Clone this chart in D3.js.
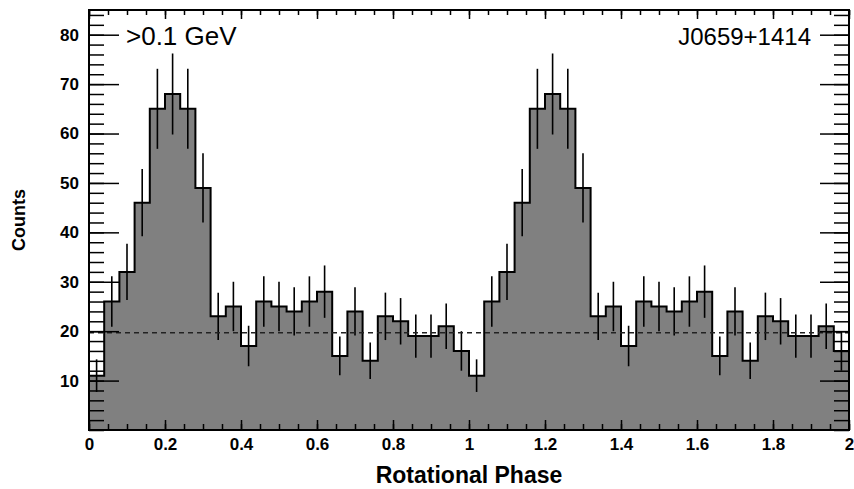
<!DOCTYPE html>
<html>
<head>
<meta charset="utf-8">
<script src="https://cdn.jsdelivr.net/npm/d3@7"></script>
<style>
    body { margin: 0; background: #fff; }
    svg text { font-family: "Liberation Sans", Arial, sans-serif; }
</style>
</head>
<body>
<div class="chart_global"></div>
<script>
// counts per phase bin (25 bins of 0.04, one rotation)
const counts = [11, 26, 32, 46, 65, 68, 65, 49, 23, 25, 17, 26, 25, 24, 26, 28, 15, 24, 14, 23, 22, 19, 19, 21, 16]
// statistical errors
const errors = [3.3, 5.1, 5.7, 6.8, 8.1, 8.2, 8.1, 7.0, 4.8, 5.0, 4.1, 5.1, 5.0, 4.9, 5.1, 5.3, 3.9, 4.9, 3.7, 4.8, 4.7, 4.4, 4.4, 4.6, 4.0]
const binWidth = 0.04
const rotations = 2
const background = 19.7
const xTicks = [0, 0.2, 0.4, 0.6, 0.8, 1, 1.2, 1.4, 1.6, 1.8, 2]
const yTicks = [10, 20, 30, 40, 50, 60, 70, 80]
const energyLabel = '>0.1 GeV'
const pulsarName = 'J0659+1414'

// two rotations shown
const bins = []
for (let r = 0; r < rotations; r++) {
    counts.forEach((c, i) => {
        bins.push({ x0: r + i * binWidth, x1: r + (i + 1) * binWidth, v: c, err: errors[i] })
    })
}

const width = 854
const height = 489
const margin = { left: 89, right: 5, top: 10, bottom: 59 }

const svg = d3.select('.chart_global')
    .append('svg')
    .attr('width', width)
    .attr('height', height)

const xScale = d3.scaleLinear().domain([0, 2]).range([margin.left, width - margin.right])
const yScale = d3.scaleLinear().domain([0, 85]).range([height - margin.bottom, margin.top])

// histogram outline
const pts = [[0, 0]]
bins.forEach(b => { pts.push([b.x0, b.v]); pts.push([b.x1, b.v]) })
pts.push([2, 0])
const line = d3.line()
    .x(d => xScale(d[0]))
    .y(d => yScale(d[1]))

svg.append('path')
    .attr('d', line(pts))
    .attr('fill', '#808080')
    .attr('stroke', '#000')
    .attr('stroke-width', 2)
    .attr('stroke-linejoin', 'miter')

// error bars
svg.selectAll('.err')
    .data(bins)
    .enter()
    .append('line')
    .attr('class', 'err')
    .attr('x1', d => xScale((d.x0 + d.x1) / 2))
    .attr('x2', d => xScale((d.x0 + d.x1) / 2))
    .attr('y1', d => yScale(d.v - d.err))
    .attr('y2', d => yScale(d.v + d.err))
    .attr('stroke', '#000')
    .attr('stroke-width', 1.6)

// background level
svg.append('line')
    .attr('x1', xScale(0))
    .attr('x2', xScale(2))
    .attr('y1', yScale(background))
    .attr('y2', yScale(background))
    .attr('stroke', '#222')
    .attr('stroke-width', 1.5)
    .attr('stroke-dasharray', '5,4')

const fmt = d3.format('.1~f')
const xMinor = d3.range(0, 41).map(i => i * 0.05)
const yMinor = d3.range(0, 43).map(i => i * 2)
const bottomY = yScale(0)
const topY = yScale(85)

function styleAxis(g) {
    g.select('.domain').remove()
    g.selectAll('.tick line').attr('stroke', '#000').attr('stroke-width', 1.5)
    g.selectAll('text')
        .attr('font-family', '"Liberation Sans", Arial, sans-serif')
        .attr('font-weight', 'bold')
        .attr('font-size', 17)
        .attr('fill', '#000')
}

// bottom
svg.append('g')
    .attr('transform', `translate(0,${bottomY})`)
    .call(d3.axisBottom(xScale).tickValues(xMinor).tickSize(-6).tickFormat(''))
    .call(styleAxis)
svg.append('g')
    .attr('transform', `translate(0,${bottomY})`)
    .call(d3.axisBottom(xScale).tickValues(xTicks).tickSize(-10).tickPadding(8).tickFormat(fmt))
    .call(styleAxis)
// top
svg.append('g')
    .attr('transform', `translate(0,${topY})`)
    .call(d3.axisTop(xScale).tickValues(xMinor).tickSize(-5).tickFormat(''))
    .call(styleAxis)
svg.append('g')
    .attr('transform', `translate(0,${topY})`)
    .call(d3.axisTop(xScale).tickValues(xTicks).tickSize(-9).tickFormat(''))
    .call(styleAxis)
// left
svg.append('g')
    .attr('transform', `translate(${xScale(0)},0)`)
    .call(d3.axisLeft(yScale).tickValues(yMinor).tickSize(-15).tickFormat(''))
    .call(styleAxis)
svg.append('g')
    .attr('transform', `translate(${xScale(0)},0)`)
    .call(d3.axisLeft(yScale).tickValues(yTicks).tickSize(-30).tickPadding(10).tickFormat(d3.format('d')))
    .call(styleAxis)
// right
svg.append('g')
    .attr('transform', `translate(${xScale(2)},0)`)
    .call(d3.axisRight(yScale).tickValues(yMinor).tickSize(-15).tickFormat(''))
    .call(styleAxis)
svg.append('g')
    .attr('transform', `translate(${xScale(2)},0)`)
    .call(d3.axisRight(yScale).tickValues(yTicks).tickSize(-29).tickFormat(''))
    .call(styleAxis)

// frame
svg.append('rect')
    .attr('x', xScale(0))
    .attr('y', topY)
    .attr('width', xScale(2) - xScale(0))
    .attr('height', bottomY - topY)
    .attr('fill', 'none')
    .attr('stroke', '#000')
    .attr('stroke-width', 2)

// labels
svg.append('text')
    .attr('x', 126)
    .attr('y', 45)
    .attr('font-size', 26)
    .text(energyLabel)

svg.append('text')
    .attr('x', 811)
    .attr('y', 45)
    .attr('text-anchor', 'end')
    .attr('font-size', 24)
    .text(pulsarName)

svg.append('text')
    .attr('x', (xScale(0) + xScale(2)) / 2)
    .attr('y', 483)
    .attr('text-anchor', 'middle')
    .attr('font-size', 23)
    .attr('font-weight', 'bold')
    .text('Rotational Phase')

svg.append('text')
    .attr('transform', 'translate(25,220) rotate(-90)')
    .attr('text-anchor', 'middle')
    .attr('font-size', 18)
    .attr('font-weight', 'bold')
    .text('Counts')
</script>
</body>
</html>
